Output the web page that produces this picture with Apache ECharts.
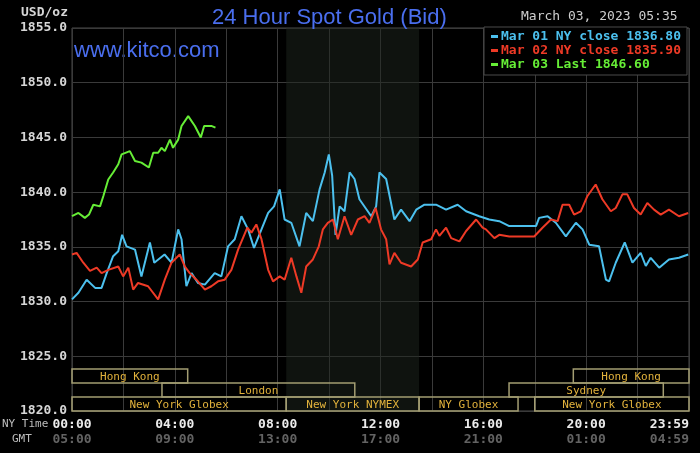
<!DOCTYPE html>
<html>
<head>
<meta charset="utf-8">
<script src="https://cdn.jsdelivr.net/npm/echarts@6/dist/echarts.min.js"></script>
<style>
  html, body { margin: 0; padding: 0; background: #000; }
  #mainPlot { width: 700px; height: 453px; }
</style>
</head>
<body>
<div id="mainPlot"></div>
<script>
// hours since 00:00 NY time, price in USD/oz
const mar01 = [[0,1830.2],[0.25,1830.8],[0.57,1832.0],[0.9,1831.25],[1.15,1831.25],[1.35,1832.6],[1.6,1834.15],[1.8,1834.6],[1.95,1836.1],[2.12,1835.05],[2.45,1834.75],[2.7,1832.3],[3.03,1835.4],[3.2,1833.55],[3.6,1834.3],[3.87,1833.55],[4.13,1836.6],[4.26,1835.7],[4.45,1831.4],[4.65,1832.6],[4.9,1831.7],[5.17,1831.55],[5.55,1832.6],[5.81,1832.3],[6.07,1835.05],[6.33,1835.7],[6.59,1837.8],[6.85,1836.6],[7.08,1834.9],[7.37,1836.6],[7.63,1838.1],[7.86,1838.7],[8.08,1840.25],[8.27,1837.5],[8.53,1837.2],[8.85,1835.05],[9.11,1838.1],[9.37,1837.35],[9.63,1840.25],[9.83,1841.8],[9.99,1843.45],[10.12,1841.5],[10.25,1836.1],[10.41,1838.7],[10.6,1838.25],[10.8,1841.8],[10.99,1841.2],[11.18,1839.35],[11.64,1837.8],[11.83,1838.7],[11.96,1841.8],[12.22,1841.2],[12.54,1837.5],[12.8,1838.4],[13.13,1837.35],[13.39,1838.4],[13.71,1838.85],[14.16,1838.85],[14.55,1838.4],[15.0,1838.85],[15.33,1838.25],[15.84,1837.8],[16.23,1837.5],[16.62,1837.35],[17.01,1836.9],[18.05,1836.9],[18.17,1837.65],[18.5,1837.8],[18.82,1837.2],[19.21,1835.95],[19.6,1837.2],[19.86,1836.6],[20.12,1835.2],[20.5,1835.05],[20.77,1832.0],[20.89,1831.85],[21.15,1833.55],[21.5,1835.4],[21.8,1833.55],[22.12,1834.45],[22.32,1833.25],[22.51,1834.0],[22.84,1833.1],[23.22,1833.85],[23.61,1834.0],[23.97,1834.3]];

const mar02 = [[0,1834.3],[0.18,1834.45],[0.44,1833.55],[0.7,1832.8],[0.96,1833.1],[1.15,1832.6],[1.41,1832.9],[1.8,1833.2],[1.99,1832.3],[2.19,1833.1],[2.38,1831.1],[2.57,1831.7],[2.96,1831.4],[3.35,1830.2],[3.61,1832.0],[3.87,1833.55],[4.19,1834.3],[4.39,1833.2],[4.58,1832.6],[4.84,1832.0],[5.17,1831.1],[5.42,1831.4],[5.68,1831.85],[5.94,1832.0],[6.2,1832.9],[6.46,1834.75],[6.82,1836.75],[6.98,1836.3],[7.17,1837.05],[7.37,1835.7],[7.63,1832.9],[7.82,1831.85],[8.08,1832.3],[8.27,1832.0],[8.53,1834.0],[8.73,1832.3],[8.92,1830.8],[9.11,1833.2],[9.37,1833.85],[9.6,1835.05],[9.76,1836.6],[9.95,1837.2],[10.15,1837.5],[10.34,1835.7],[10.6,1837.8],[10.86,1836.1],[11.12,1837.5],[11.38,1837.8],[11.57,1837.2],[11.81,1838.55],[12.02,1836.6],[12.22,1835.7],[12.35,1833.4],[12.54,1834.45],[12.8,1833.55],[13.19,1833.2],[13.45,1833.85],[13.64,1835.4],[13.97,1835.7],[14.16,1836.6],[14.29,1836.0],[14.55,1836.75],[14.75,1835.8],[15.07,1835.5],[15.33,1836.45],[15.72,1837.5],[15.97,1836.75],[16.1,1836.6],[16.43,1835.8],[16.62,1836.1],[17.01,1835.95],[17.98,1835.95],[18.3,1836.75],[18.63,1837.5],[18.89,1837.35],[19.08,1838.85],[19.34,1838.85],[19.53,1837.95],[19.79,1838.25],[20.05,1839.65],[20.37,1840.7],[20.63,1839.35],[20.96,1838.25],[21.15,1838.55],[21.41,1839.8],[21.6,1839.8],[21.86,1838.55],[22.12,1837.95],[22.38,1839.0],[22.64,1838.4],[22.9,1837.95],[23.22,1838.4],[23.61,1837.8],[23.97,1838.1]];

const mar03 = [[0,1837.8],[0.25,1838.1],[0.5,1837.65],[0.66,1837.95],[0.83,1838.85],[1.09,1838.7],[1.22,1839.65],[1.41,1841.15],[1.6,1841.8],[1.8,1842.55],[1.93,1843.45],[2.25,1843.75],[2.45,1842.85],[2.7,1842.7],[2.99,1842.25],[3.16,1843.6],[3.35,1843.6],[3.48,1844.05],[3.61,1843.75],[3.81,1844.8],[3.93,1844.05],[4.13,1844.8],[4.26,1846.05],[4.52,1846.95],[4.78,1846.05],[5.01,1845.0],[5.14,1846.05],[5.42,1846.05],[5.58,1845.9]];

const legendLabels = ["Mar 01 NY close 1836.80", "Mar 02 NY close 1835.90", "Mar 03 Last 1846.60"];
const nyTimeLabels = ["00:00", "04:00", "08:00", "12:00", "16:00", "20:00", "23:59"];
const gmtLabels = ["05:00", "09:00", "13:00", "17:00", "21:00", "01:00", "04:59"];

// trading sessions (hours, NY time), row 0 = top
const sessionNames = ["Hong Kong", "London", "New York Globex", "New York NYMEX", "NY Globex", "Sydney", "Hong Kong", "New York Globex"];
const sessionStart = [0, 3.5, 0, 8.333, 13.5, 17, 19.5, 18];
const sessionEnd = [4.5, 11, 8.333, 13.5, 17.35, 23, 24, 24];
const sessionRow = [0, 1, 2, 2, 2, 1, 0, 2];

const colors = ["#4cc0ee", "#ee3a26", "#66ee36"];
const mono = '"DejaVu Sans Mono", monospace';

const chart = echarts.init(document.getElementById("mainPlot"));

function renderSession(params, api) {
  const x0 = api.coord([api.value(0), 1820])[0];
  const x1 = api.coord([api.value(1), 1820])[0];
  const bottom = params.coordSys.y + params.coordSys.height;
  const h = 14;
  const y = bottom - (3 - api.value(2)) * h;
  return {
    type: "group",
    children: [
      { type: "rect", shape: { x: x0, y: y, width: x1 - x0, height: h },
        style: { fill: "none", stroke: "#a39d72", lineWidth: 1.5 } },
      { type: "text",
        style: { text: sessionNames[params.dataIndex], x: (x0 + x1) / 2, y: y + h / 2 + 1,
                 align: "center", verticalAlign: "middle", fill: "#e2b23c", font: "11px " + mono } }
    ]
  };
}

const option = {
  backgroundColor: "#000",
  animation: false,
  title: {
    text: "24 Hour Spot Gold (Bid)",
    left: 207, top: 2,
    textStyle: { color: "#4a6eee", fontSize: 22, fontWeight: "normal", fontFamily: "Liberation Sans, Arial" }
  },
  graphic: [
    { type: "text", left: 74, top: 40,
      style: { text: "www.kitco.com", fill: "#4a6eee", font: "22px 'Liberation Sans', Arial" } },
    { type: "text", left: 521, top: 10,
      style: { text: "March 03, 2023 05:35", fill: "#cfcfcf", font: "13px " + mono } },
    { type: "text", left: 2, top: 419,
      style: { text: "NY Time", fill: "#bdbdbd", font: "11px " + mono } },
    { type: "text", left: 12, top: 434,
      style: { text: "GMT", fill: "#bdbdbd", font: "11px " + mono } }
  ],
  legend: {
    orient: "vertical",
    left: 484, top: 27,
    padding: [3, 6, 4, 7],
    itemGap: 1,
    itemWidth: 7, itemHeight: 3,
    icon: "rect",
    backgroundColor: "#000",
    borderColor: "#4a4a4a", borderWidth: 1,
    selectedMode: false,
    textStyle: { fontFamily: mono, fontSize: 13, fontWeight: "bold", padding: [0, 0, 0, -2] },
    data: legendLabels.map((name, i) => ({ name: name, textStyle: { color: colors[i] } }))
  },
  grid: { left: 72, right: 11, top: 28, bottom: 42, show: true, borderColor: "#4a4a4a", borderWidth: 1, backgroundColor: "transparent" },
  xAxis: {
    type: "value", min: 0, max: 24, interval: 2,
    axisLine: { show: false }, axisTick: { show: false },
    splitLine: { lineStyle: { color: "#3a3a3a", width: 1 } },
    axisLabel: {
      margin: 6,
      alignMaxLabel: "right",
      formatter: (v) => {
        if (v % 4 !== 0) return "";
        const i = v / 4;
        return "{a|" + nyTimeLabels[i] + "}\n{b|" + gmtLabels[i] + "}";
      },
      rich: {
        a: { color: "#ececec", fontFamily: mono, fontSize: 13, fontWeight: "bold", lineHeight: 15 },
        b: { color: "#636363", fontFamily: mono, fontSize: 13, fontWeight: "bold", lineHeight: 15 }
      }
    }
  },
  yAxis: {
    type: "value", min: 1820, max: 1855, interval: 5,
    name: "USD/oz", nameLocation: "end", nameGap: 9,
    nameTextStyle: { color: "#d6d6d6", fontFamily: mono, fontSize: 13, fontWeight: "bold", align: "right", padding: [0, 4, 0, 0] },
    axisLine: { show: false }, axisTick: { show: false },
    splitLine: { lineStyle: { color: "#3a3a3a", width: 1 } },
    axisLabel: { margin: 5, color: "#d6d6d6", fontFamily: mono, fontSize: 13, fontWeight: "bold", formatter: (v) => v.toFixed(1) }
  },
  series: [
    {
      name: legendLabels[0], type: "line", data: mar01, showSymbol: false,
      lineStyle: { color: colors[0], width: 2 }, itemStyle: { color: colors[0] },
      markArea: {
        silent: true,
        itemStyle: { color: "rgba(30,38,30,0.5)" },
        data: [[{ xAxis: 8.333 }, { xAxis: 13.5 }]]
      }
    },
    { name: legendLabels[1], type: "line", data: mar02, showSymbol: false,
      lineStyle: { color: colors[1], width: 2 }, itemStyle: { color: colors[1] } },
    { name: legendLabels[2], type: "line", data: mar03, showSymbol: false,
      lineStyle: { color: colors[2], width: 2 }, itemStyle: { color: colors[2] } },
    {
      type: "custom", silent: true, z: 3,
      renderItem: renderSession,
      encode: { x: [0, 1], y: 3 },
      data: sessionStart.map((s, i) => [s, sessionEnd[i], sessionRow[i], 1820])
    }
  ]
};

chart.setOption(option);
</script>
</body>
</html>
